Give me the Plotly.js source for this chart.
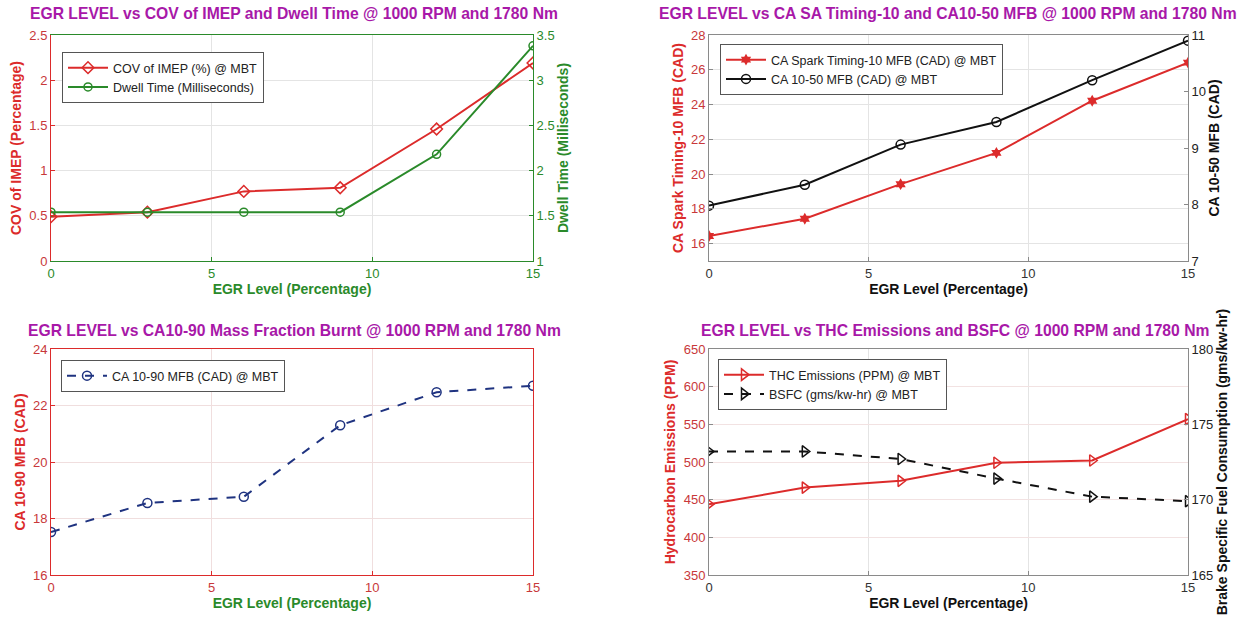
<!DOCTYPE html>
<html>
<head>
<meta charset="utf-8">
<script src="https://cdn.plot.ly/plotly-3.0.1.min.js"></script>
<style>html,body{margin:0;padding:0;background:#fff}#chart{width:1247px;height:618px}</style>
</head>
<body>
<div id="chart"></div>
<script>
// ---- Data ----
const egrLevel = [0, 3, 6, 9, 12, 15];
const covImep = [0.49, 0.54, 0.77, 0.81, 1.46, 2.19];
const dwellTime = [1.54, 1.54, 1.54, 1.54, 2.18, 3.38];
const sparkTiming10 = [16.44, 17.43, 19.42, 21.22, 24.22, 26.41];
const ca1050 = [7.98, 8.35, 9.06, 9.46, 10.2, 10.9];
const ca1090 = [17.52, 18.55, 18.77, 21.3, 22.47, 22.7];
const thcPpm = [444, 466, 475, 499, 502, 557];
const bsfc = [173.2, 173.2, 172.7, 171.4, 170.2, 169.9];

const titles = [
  "EGR LEVEL vs COV of IMEP and Dwell Time @ 1000 RPM and 1780 Nm",
  "EGR LEVEL vs CA SA Timing-10 and CA10-50 MFB @ 1000 RPM and 1780 Nm",
  "EGR LEVEL vs CA10-90 Mass Fraction Burnt @ 1000 RPM and 1780 Nm",
  "EGR LEVEL vs THC Emissions and BSFC @ 1000 RPM and 1780 Nm"
];
const xTitle = "EGR Level (Percentage)";

// ---- Styles ----
const W = 1247, H = 618;
const RED = "#dc2b2b", REDTXT = "#c8383a", GREEN = "#2a8a2a", BLUE = "#1f3380", BLACK = "#111111";
const PURPLE = "#a818a8", GRID = "#e4e4e4", GRAYLINE = "#8a8a8a";
const FONT = "Liberation Sans, Arial, sans-serif";

const px = (a, b) => [a / W, b / W];
const py = (top, bottom) => [1 - bottom / H, 1 - top / H];
const dxL = px(51, 533), dxR = px(709, 1188);
const dyT = py(35, 261), dyB = py(349, 575);

function xax(domain, anchor, lineColor, tickColor, titleColor, grid) {
  return {
    domain: domain, anchor: anchor, range: [0, 15], tickvals: [0, 5, 10, 15],
    showline: true, linecolor: lineColor, linewidth: 1, mirror: true,
    ticks: "inside", ticklen: 4, tickcolor: lineColor,
    showgrid: true, gridcolor: grid || GRID, zeroline: false,
    tickfont: {family: FONT, size: 13, color: tickColor},
    title: {text: "<b>" + xTitle + "</b>", font: {family: FONT, size: 14, color: titleColor}, standoff: 4}
  };
}
function yax(domain, anchor, range, dtick, lineColor, tickColor, title, titleColor, side, overlay, grid) {
  const o = {
    domain: domain, anchor: anchor, range: range, dtick: dtick, side: side || "left",
    showline: true, linecolor: lineColor, linewidth: 1,
    ticks: "inside", ticklen: 4, tickcolor: lineColor,
    showgrid: true, gridcolor: grid || GRID, zeroline: false,
    tickfont: {family: FONT, size: 13, color: tickColor},
    title: {text: "<b>" + title + "</b>", font: {family: FONT, size: 14, color: titleColor}, standoff: 4}
  };
  if (overlay) { o.overlaying = overlay; o.showgrid = false; }
  return o;
}

const traces = [
  {x: egrLevel, y: covImep, xaxis: "x", yaxis: "y", name: "COV of IMEP (%) @ MBT", legend: "legend",
   mode: "lines+markers", line: {color: RED, width: 2}, marker: {symbol: "diamond-open", size: 9, color: RED, line: {width: 1.5}}},
  {x: egrLevel, y: dwellTime, xaxis: "x", yaxis: "y2", name: "Dwell Time (Milliseconds)", legend: "legend",
   mode: "lines+markers", line: {color: GREEN, width: 2}, marker: {symbol: "circle-open", size: 8, color: GREEN, line: {width: 1.5}}},
  {x: egrLevel, y: sparkTiming10, xaxis: "x2", yaxis: "y3", name: "CA Spark Timing-10 MFB (CAD) @ MBT", legend: "legend2",
   mode: "lines+markers", line: {color: RED, width: 2}, marker: {symbol: "hexagram", size: 9, color: RED}},
  {x: egrLevel, y: ca1050, xaxis: "x2", yaxis: "y4", name: "CA 10-50 MFB (CAD) @ MBT", legend: "legend2",
   mode: "lines+markers", line: {color: BLACK, width: 2}, marker: {symbol: "circle-open", size: 9, color: BLACK, line: {width: 1.5}}},
  {x: egrLevel, y: ca1090, xaxis: "x3", yaxis: "y5", name: "CA 10-90 MFB (CAD) @ MBT", legend: "legend3",
   mode: "lines+markers", line: {color: BLUE, width: 2, dash: "dash"}, marker: {symbol: "circle-open", size: 9, color: BLUE, line: {width: 1.5}}},
  {x: egrLevel, y: thcPpm, xaxis: "x4", yaxis: "y6", name: "THC Emissions (PPM) @ MBT", legend: "legend4",
   mode: "lines+markers", line: {color: RED, width: 2}, marker: {symbol: "triangle-right-open", size: 10, color: RED, line: {width: 1.5}}},
  {x: egrLevel, y: bsfc, xaxis: "x4", yaxis: "y7", name: "BSFC (gms/kw-hr) @ MBT", legend: "legend4",
   mode: "lines+markers", line: {color: BLACK, width: 2, dash: "dash"}, marker: {symbol: "triangle-right-open", size: 10, color: BLACK, line: {width: 1.5}}}
];

function leg(x, y) {
  return {x: x / W, y: 1 - y / H, xanchor: "left", yanchor: "top", xref: "paper", yref: "paper",
    bgcolor: "#ffffff", bordercolor: "#555555", borderwidth: 1,
    font: {family: FONT, size: 12.5, color: "#222"}, tracegroupgap: 2, itemwidth: 40};
}

const ann = [
  [294, 14, titles[0]], [948, 14, titles[1]], [294, 330, titles[2]], [955, 330, titles[3]]
].map(a => ({x: a[0] / W, y: 1 - a[1] / H, xref: "paper", yref: "paper", xanchor: "center", yanchor: "middle",
  showarrow: false, text: "<b>" + a[2] + "</b>", font: {family: FONT, size: 15.7, color: PURPLE}}));

const layout = {
  width: W, height: H, margin: {l: 0, r: 0, t: 0, b: 0},
  paper_bgcolor: "#fff", plot_bgcolor: "#fff", showlegend: true,
  font: {family: FONT},
  xaxis: xax(dxL, "y", GREEN, GREEN, GREEN),
  yaxis: yax(dyT, "x", [0, 2.5], 0.5, RED, REDTXT, "COV of IMEP (Percentage)", RED),
  yaxis2: yax(dyT, "x", [1, 3.5], 0.5, GREEN, GREEN, "Dwell Time (Milliseconds)", GREEN, "right", "y"),
  xaxis2: xax(dxR, "y3", GRAYLINE, "#333", BLACK),
  yaxis3: yax(dyT, "x2", [15, 28], 2, GRAYLINE, REDTXT, "CA Spark Timing-10 MFB (CAD)", RED),
  yaxis4: yax(dyT, "x2", [7, 11], 1, GRAYLINE, "#222", "CA 10-50 MFB (CAD)", BLACK, "right", "y3"),
  xaxis3: xax(dxL, "y5", RED, REDTXT, GREEN, "#f0dede"),
  yaxis5: Object.assign(yax(dyB, "x3", [16, 24], 2, RED, REDTXT, "CA 10-90 MFB (CAD)", RED, "left", null, "#f0dede"), {mirror: true}),
  xaxis4: xax(dxR, "y6", GRAYLINE, "#333", BLACK),
  yaxis6: yax(dyB, "x4", [350, 650], 50, GRAYLINE, REDTXT, "Hydrocarbon Emissions (PPM)", RED, "left", null, "#f2e2e2"),
  yaxis7: yax(dyB, "x4", [165, 180], 5, GRAYLINE, "#222", "Brake Specific Fuel Consumption (gms/kw-hr)", BLACK, "right", "y6"),
  legend: leg(62, 52), legend2: leg(720, 44), legend3: leg(61, 360), legend4: leg(718, 359),
  annotations: ann
};

Plotly.newPlot("chart", traces, layout, {displayModeBar: false, staticPlot: true});
</script>
</body>
</html>
